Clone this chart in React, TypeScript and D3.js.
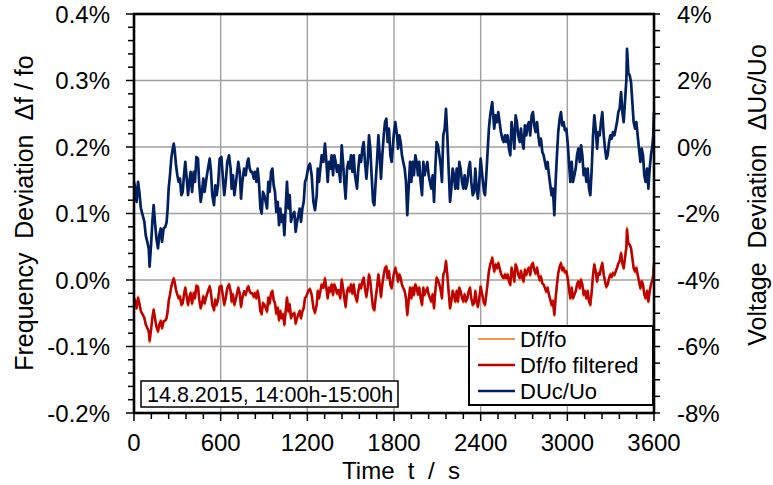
import React, { useEffect, useRef } from 'react';
import * as d3 from 'd3';

// time axis of the readings (s)
const timeS = [
  0, 9, 18, 28, 37, 48, 60, 72, 81, 92,
  102, 108, 118, 127, 136, 145, 155, 166, 175, 185,
  194, 205, 217, 226, 233, 240, 249, 258, 268, 275,
  282, 291, 300, 309, 318, 328, 337, 346, 355, 365,
  374, 383, 392, 402, 413, 422, 432, 443, 452, 462,
  471, 480, 489, 498, 512, 524, 533, 542, 554, 563,
  572, 582, 593, 605, 614, 625, 635, 646, 658, 669,
  676, 685, 695, 709, 722, 732, 741, 750, 762, 773,
  785, 792, 801, 810, 819, 829, 838, 847, 856, 865,
  875, 884, 893, 902, 912, 921, 930, 939, 949, 958,
  967, 976, 985, 995, 1004, 1013, 1022, 1032, 1041, 1050,
  1059, 1069, 1078, 1087, 1096, 1110, 1119, 1129, 1138, 1147,
  1156, 1166, 1175, 1184, 1193, 1207, 1218, 1230, 1242, 1253,
  1265, 1272, 1281, 1290, 1299, 1311, 1322, 1332, 1341, 1350,
  1359, 1368, 1378, 1387, 1396, 1405, 1415, 1428, 1438, 1447,
  1456, 1465, 1475, 1484, 1493, 1502, 1512, 1521, 1530, 1544,
  1553, 1562, 1572, 1581, 1590, 1599, 1609, 1618, 1627, 1636,
  1645, 1655, 1664, 1673, 1682, 1692, 1701, 1710, 1719, 1729,
  1738, 1747, 1756, 1765, 1775, 1784, 1798, 1809, 1821, 1828,
  1837, 1846, 1855, 1864, 1874, 1883, 1892, 1901, 1911, 1920,
  1929, 1938, 1948, 1957, 1966, 1975, 1984, 1994, 2003, 2012,
  2021, 2031, 2040, 2049, 2058, 2068, 2077, 2086, 2095, 2104,
  2114, 2123, 2132, 2141, 2151, 2160, 2169, 2178, 2188, 2197,
  2206, 2215, 2224, 2234, 2243, 2252, 2261, 2271, 2280, 2289,
  2298, 2308, 2317, 2326, 2335, 2345, 2354, 2363, 2372, 2381,
  2391, 2400, 2411, 2423, 2430, 2439, 2448, 2457, 2466, 2476,
  2480, 2485, 2494, 2503, 2513, 2522, 2531, 2540, 2550, 2559,
  2568, 2577, 2586, 2596, 2605, 2614, 2623, 2633, 2642, 2651,
  2660, 2670, 2679, 2688, 2697, 2706, 2716, 2725, 2734, 2743,
  2753, 2762, 2771, 2780, 2790, 2799, 2808, 2817, 2827, 2836,
  2845, 2854, 2863, 2873, 2882, 2891, 2900, 2910, 2919, 2928,
  2937, 2947, 2956, 2965, 2974, 2983, 2993, 3002, 3012, 3021,
  3030, 3039, 3049, 3058, 3067, 3076, 3086, 3095, 3104, 3113,
  3122, 3132, 3141, 3150, 3159, 3169, 3178, 3187, 3196, 3206,
  3215, 3224, 3233, 3242, 3252, 3261, 3270, 3279, 3289, 3298,
  3307, 3316, 3326, 3335, 3344, 3353, 3362, 3372, 3381, 3390,
  3399, 3409, 3413, 3418, 3422, 3432, 3441, 3450, 3459, 3469,
  3478, 3487, 3496, 3506, 3515, 3524, 3533, 3542, 3552, 3561,
  3570, 3579, 3589, 3595, 3600,
];

// DUc/Uo in % (right axis)
const dUcUo = [
  -1.05, -1.25, -1.65, -1.05, -1.35, -1.85, -2.05, -2.25, -2.65, -2.85,
  -3.05, -3.6, -2.95, -2.25, -1.75, -2.25, -2.75, -3.05, -2.65, -2.45,
  -2.85, -2.45, -2.4, -2.25, -1.85, -1.25, -0.85, -0.35, -0.05, 0.1,
  -0.1, -0.55, -0.85, -1.05, -0.95, -1.45, -1.35, -0.85, -0.45, -0.95,
  -1.45, -1.05, -0.75, -1.35, -0.75, -1.05, -0.3, -0.35, -1.15, -1.65,
  -1.35, -0.95, -1.35, -1.05, -0.65, -0.35, -0.75, -1.45, -1.75, -1.15,
  -1.45, -1.15, -0.35, -0.3, -0.85, -1.45, -1.05, -0.45, -0.25, -0.65,
  -1.25, -0.85, -1.45, -0.95, -0.45, -0.75, -1.55, -1.05, -0.65, -0.85,
  -0.45, -0.35, -0.65, -0.75, -0.75, -0.95, -0.75, -1.05, -0.65, -1.05,
  -1.85, -2.0, -1.35, -1.45, -1.65, -1.85, -1.05, -1.35, -0.75, -0.65,
  -1.15, -1.35, -1.95, -1.65, -2.35, -1.85, -2.25, -2.05, -2.65, -1.85,
  -1.05, -1.85, -1.45, -2.25, -2.05, -1.95, -2.55, -2.25, -2.05, -1.85,
  -2.25, -1.85, -1.65, -1.05, -0.95, -0.6, -0.5, -0.85, -1.65, -1.9,
  -1.45, -0.65, -1.05, -0.65, -0.25, -0.45, 0.1, -0.45, -1.05, -0.45,
  -0.65, -0.25, -0.85, -0.25, -0.45, -0.75, -0.55, -1.05, 0.05, -0.45,
  -1.05, -1.55, -0.65, -0.45, -0.65, -0.25, -0.75, -0.25, -0.85, -1.25,
  -0.65, -0.25, -0.45, -0.05, 0.15, -0.45, -0.95, -0.45, 0.35, -0.05,
  -0.85, -1.65, -1.75, -1.05, -0.45, 0.35, -0.25, -0.95, -0.25, 0.35,
  0.75, 0.85, 0.15, 0.55, -0.25, -0.45, 0.35, 0.75, 0.35, -0.05,
  0.35, 0.15, -0.25, -0.45, -0.65, -1.05, -2.05, -1.25, -0.45, -1.05,
  -0.45, -0.85, -0.25, -0.45, -0.85, -0.45, -1.05, -1.45, -0.45, -0.85,
  -0.65, -0.45, -0.85, -1.05, -1.25, -0.85, -1.65, -0.65, 0.15, 0.05,
  -0.25, -0.55, -1.05, 0.35, 0.55, 1.15, 0.35, -0.65, -1.65, -1.25,
  -0.65, -0.85, -1.25, -0.65, -1.25, -0.45, -0.65, -1.05, -1.25, -0.85,
  -1.25, -1.05, -0.65, -0.45, -1.05, -1.45, -1.35, -0.65, -1.25, -1.55,
  -1.0, -0.35, -0.85, -1.35, -1.45, -0.85, -0.15, 0.55, 0.95, 1.25,
  1.35, 1.05, 0.55, 0.95, 0.75, 1.05, 0.75, 0.45, 0.25, 0.15,
  0.35, 0.15, 0.35, -0.05, -0.25, 0.75, 0.45, -0.05, 0.95, 0.75,
  0.35, 0.15, 0.55, 0.15, -0.05, 0.65, 0.35, 0.65, 0.75, 0.35,
  0.95, 1.05, 0.65, 0.45, 0.75, 0.35, 0.05, 0.25, -0.15, -0.25,
  -0.45, -0.65, -0.45, -0.85, -1.15, -1.45, -1.25, -2.05, -1.05, -0.25,
  0.45, 0.85, 1.05, 0.65, 0.75, 0.5, 0.55, 0.15, -0.5, -1.05,
  -0.45, -1.05, -0.85, -0.65, -0.25, -0.05, -0.45, 0.05, -0.25, -0.85,
  -0.65, -1.05, -0.65, -1.25, -1.45, -0.65, 0.35, 0.95, 0.55, -0.05,
  0.45, 0.35, 0.75, 1.05, 0.35, -0.05, -0.35, -0.25, 0.15, 0.35,
  0.25, 0.45, 0.35, 0.55, 0.75, 1.05, 1.15, 1.65, 1.05, 0.75,
  1.35, 2.05, 2.95, 2.6, 2.25, 2.15, 1.95, 1.35, 0.75, 0.55,
  0.75, 0.35, -0.05, -0.45, -0.05, -0.25, -0.85, -1.05, -0.65, -1.25,
  -0.65, -0.25, 0.05, 0.35, 1.05,
];

// Df/fo filtered in % (left axis)
const dfFiltered = [
  -0.027, -0.032, -0.042, -0.027, -0.035, -0.047, -0.052, -0.057, -0.067, -0.072,
  -0.077, -0.091, -0.075, -0.057, -0.045, -0.057, -0.070, -0.077, -0.067, -0.062,
  -0.072, -0.062, -0.061, -0.057, -0.047, -0.032, -0.022, -0.010, -0.002, 0.002,
  -0.004, -0.015, -0.022, -0.027, -0.025, -0.037, -0.035, -0.022, -0.012, -0.025,
  -0.037, -0.027, -0.020, -0.035, -0.020, -0.027, -0.009, -0.010, -0.030, -0.042,
  -0.035, -0.025, -0.035, -0.027, -0.017, -0.010, -0.020, -0.037, -0.045, -0.030,
  -0.037, -0.030, -0.010, -0.009, -0.022, -0.037, -0.027, -0.012, -0.007, -0.017,
  -0.032, -0.022, -0.037, -0.025, -0.012, -0.020, -0.040, -0.027, -0.017, -0.022,
  -0.012, -0.010, -0.017, -0.020, -0.020, -0.025, -0.020, -0.027, -0.017, -0.027,
  -0.047, -0.051, -0.035, -0.037, -0.042, -0.047, -0.027, -0.035, -0.020, -0.017,
  -0.030, -0.035, -0.050, -0.042, -0.060, -0.047, -0.057, -0.052, -0.067, -0.047,
  -0.027, -0.047, -0.037, -0.057, -0.052, -0.050, -0.065, -0.057, -0.052, -0.047,
  -0.057, -0.047, -0.042, -0.027, -0.025, -0.016, -0.014, -0.022, -0.042, -0.049,
  -0.037, -0.017, -0.027, -0.017, -0.007, -0.012, 0.002, -0.012, -0.027, -0.012,
  -0.017, -0.007, -0.022, -0.007, -0.012, -0.020, -0.015, -0.027, 0.000, -0.012,
  -0.027, -0.040, -0.017, -0.012, -0.017, -0.007, -0.020, -0.007, -0.022, -0.032,
  -0.017, -0.007, -0.012, -0.002, 0.003, -0.012, -0.025, -0.012, 0.008, -0.002,
  -0.022, -0.042, -0.045, -0.027, -0.012, 0.008, -0.007, -0.025, -0.007, 0.008,
  0.018, 0.020, 0.003, 0.013, -0.007, -0.012, 0.008, 0.018, 0.008, -0.002,
  0.008, 0.003, -0.007, -0.012, -0.017, -0.027, -0.052, -0.032, -0.012, -0.027,
  -0.012, -0.022, -0.007, -0.012, -0.022, -0.012, -0.027, -0.037, -0.012, -0.022,
  -0.017, -0.012, -0.022, -0.027, -0.032, -0.022, -0.042, -0.017, 0.003, 0.000,
  -0.007, -0.015, -0.027, 0.008, 0.013, 0.028, 0.008, -0.017, -0.042, -0.032,
  -0.017, -0.022, -0.032, -0.017, -0.032, -0.012, -0.017, -0.027, -0.032, -0.022,
  -0.032, -0.027, -0.017, -0.012, -0.027, -0.037, -0.035, -0.017, -0.032, -0.040,
  -0.026, -0.010, -0.022, -0.035, -0.037, -0.022, -0.005, 0.013, 0.023, 0.030,
  0.033, 0.025, 0.013, 0.023, 0.018, 0.025, 0.018, 0.010, 0.005, 0.003,
  0.008, 0.003, 0.008, -0.002, -0.007, 0.018, 0.010, -0.002, 0.023, 0.018,
  0.008, 0.003, 0.013, 0.003, -0.002, 0.015, 0.008, 0.015, 0.018, 0.008,
  0.023, 0.025, 0.015, 0.010, 0.018, 0.008, 0.000, 0.005, -0.005, -0.007,
  -0.012, -0.017, -0.012, -0.022, -0.030, -0.037, -0.032, -0.052, -0.027, -0.007,
  0.010, 0.020, 0.025, 0.015, 0.018, 0.012, 0.013, 0.003, -0.014, -0.027,
  -0.012, -0.027, -0.022, -0.017, -0.007, -0.002, -0.012, 0.000, -0.007, -0.022,
  -0.017, -0.027, -0.017, -0.032, -0.037, -0.017, 0.008, 0.023, 0.013, -0.002,
  0.010, 0.008, 0.018, 0.025, 0.008, -0.002, -0.010, -0.007, 0.003, 0.008,
  0.005, 0.010, 0.008, 0.013, 0.018, 0.025, 0.028, 0.040, 0.025, 0.018,
  0.033, 0.050, 0.076, 0.064, 0.055, 0.053, 0.048, 0.033, 0.018, 0.013,
  0.018, 0.008, -0.002, -0.012, -0.002, -0.007, -0.022, -0.027, -0.017, -0.032,
  -0.017, -0.007, 0.000, 0.008, 0.025,
];

// Df/fo unfiltered in % (left axis)
const dfRaw = [
  -0.027, -0.032, -0.044, -0.025, -0.035, -0.047, -0.052, -0.057, -0.067, -0.072,
  -0.077, -0.094, -0.075, -0.057, -0.043, -0.057, -0.070, -0.079, -0.067, -0.060,
  -0.074, -0.062, -0.061, -0.057, -0.047, -0.032, -0.022, -0.010, -0.002, 0.004,
  -0.004, -0.015, -0.022, -0.029, -0.023, -0.039, -0.035, -0.022, -0.010, -0.025,
  -0.039, -0.027, -0.018, -0.037, -0.018, -0.029, -0.007, -0.010, -0.030, -0.044,
  -0.035, -0.023, -0.037, -0.027, -0.017, -0.008, -0.020, -0.037, -0.047, -0.028,
  -0.039, -0.030, -0.010, -0.007, -0.022, -0.039, -0.027, -0.012, -0.005, -0.017,
  -0.034, -0.020, -0.039, -0.025, -0.010, -0.020, -0.042, -0.027, -0.017, -0.024,
  -0.012, -0.008, -0.017, -0.020, -0.020, -0.027, -0.018, -0.029, -0.015, -0.027,
  -0.047, -0.053, -0.033, -0.037, -0.042, -0.049, -0.025, -0.037, -0.020, -0.015,
  -0.030, -0.035, -0.052, -0.040, -0.062, -0.045, -0.059, -0.050, -0.069, -0.047,
  -0.025, -0.049, -0.035, -0.059, -0.052, -0.048, -0.067, -0.057, -0.052, -0.045,
  -0.059, -0.047, -0.042, -0.027, -0.025, -0.016, -0.012, -0.022, -0.042, -0.051,
  -0.037, -0.015, -0.029, -0.017, -0.005, -0.012, 0.004, -0.012, -0.029, -0.010,
  -0.019, -0.005, -0.024, -0.005, -0.012, -0.022, -0.015, -0.029, 0.002, -0.012,
  -0.027, -0.042, -0.017, -0.010, -0.019, -0.005, -0.022, -0.005, -0.022, -0.034,
  -0.017, -0.005, -0.014, -0.002, 0.005, -0.012, -0.027, -0.012, 0.010, -0.002,
  -0.022, -0.042, -0.047, -0.027, -0.012, 0.010, -0.007, -0.027, -0.007, 0.008,
  0.018, 0.022, 0.001, 0.015, -0.007, -0.014, 0.008, 0.020, 0.008, -0.004,
  0.010, 0.003, -0.007, -0.012, -0.017, -0.027, -0.054, -0.032, -0.010, -0.029,
  -0.010, -0.024, -0.005, -0.012, -0.022, -0.010, -0.027, -0.039, -0.010, -0.024,
  -0.017, -0.010, -0.022, -0.027, -0.034, -0.020, -0.044, -0.017, 0.005, 0.000,
  -0.007, -0.015, -0.029, 0.008, 0.013, 0.030, 0.008, -0.017, -0.044, -0.032,
  -0.015, -0.022, -0.034, -0.015, -0.034, -0.010, -0.017, -0.027, -0.034, -0.020,
  -0.034, -0.027, -0.017, -0.010, -0.027, -0.039, -0.035, -0.015, -0.032, -0.042,
  -0.026, -0.008, -0.022, -0.035, -0.039, -0.022, -0.005, 0.013, 0.023, 0.030,
  0.035, 0.025, 0.011, 0.025, 0.016, 0.027, 0.018, 0.010, 0.005, 0.001,
  0.010, 0.001, 0.010, -0.002, -0.009, 0.020, 0.010, -0.004, 0.025, 0.018,
  0.008, 0.001, 0.015, 0.003, -0.004, 0.017, 0.006, 0.015, 0.020, 0.006,
  0.023, 0.027, 0.015, 0.008, 0.020, 0.008, -0.002, 0.007, -0.005, -0.007,
  -0.012, -0.019, -0.010, -0.022, -0.030, -0.039, -0.030, -0.054, -0.027, -0.007,
  0.010, 0.020, 0.027, 0.013, 0.020, 0.010, 0.015, 0.003, -0.014, -0.029,
  -0.010, -0.029, -0.022, -0.017, -0.007, 0.000, -0.014, 0.002, -0.007, -0.024,
  -0.015, -0.029, -0.015, -0.032, -0.039, -0.017, 0.008, 0.025, 0.013, -0.004,
  0.012, 0.008, 0.018, 0.027, 0.008, -0.002, -0.012, -0.007, 0.003, 0.010,
  0.003, 0.012, 0.006, 0.013, 0.018, 0.025, 0.028, 0.042, 0.025, 0.016,
  0.033, 0.050, 0.079, 0.064, 0.055, 0.053, 0.048, 0.033, 0.018, 0.011,
  0.020, 0.008, -0.002, -0.014, 0.000, -0.007, -0.022, -0.029, -0.015, -0.034,
  -0.017, -0.007, 0.000, 0.008, 0.027,
];

const leftTicks = [-0.2, -0.1, 0.0, 0.1, 0.2, 0.3, 0.4];
const rightTicks = [-8, -6, -4, -2, 0, 2, 4];
const timeTicks = [0, 600, 1200, 1800, 2400, 3000, 3600];
const legendLabels = ['Df/fo', 'Df/fo filtered', 'DUc/Uo'];
const legendColors = ['#f79646', '#c00000', '#002060'];
const dateLabel = '14.8.2015, 14:00h-15:00h';

const FONT = '"Liberation Sans", Arial, sans-serif';

const App = () => {
  const ref = useRef<SVGSVGElement>(null);

  useEffect(() => {
    const svg = d3.select(ref.current);
    svg.selectAll('*').remove();

    const svgWidth = 773;
    const svgHeight = 485;
    const plot = { left: 134, right: 654, top: 14, bottom: 413 };

    svg.append('rect').attr('width', svgWidth).attr('height', svgHeight).attr('fill', '#fff');

    const xScale = d3.scaleLinear().domain([0, 3600]).range([plot.left, plot.right]);
    const yLeft = d3.scaleLinear().domain([-0.2, 0.4]).range([plot.bottom, plot.top]);
    const yRight = d3.scaleLinear().domain([-8, 4]).range([plot.bottom, plot.top]);

    // grid
    const grid = svg.append('g').attr('stroke', '#a0a0a0').attr('stroke-width', 1.4);
    leftTicks.slice(1, -1).forEach(v => {
      grid.append('line')
        .attr('x1', plot.left).attr('x2', plot.right)
        .attr('y1', yLeft(v)).attr('y2', yLeft(v));
    });
    timeTicks.slice(1, -1).forEach(t => {
      grid.append('line')
        .attr('x1', xScale(t)).attr('x2', xScale(t))
        .attr('y1', plot.top).attr('y2', plot.bottom);
    });

    // series
    const idx = d3.range(timeS.length);
    const lineLeft = (vals: number[]) => d3.line<number>()
      .x(i => xScale(timeS[i]))
      .y(i => yLeft(vals[i]))(idx);
    const lineRight = d3.line<number>()
      .x(i => xScale(timeS[i]))
      .y(i => yRight(dUcUo[i]));

    svg.append('path').attr('d', lineLeft(dfRaw))
      .attr('fill', 'none').attr('stroke', legendColors[0]).attr('stroke-width', 2.2)
      .attr('stroke-linejoin', 'round');
    svg.append('path').attr('d', lineLeft(dfFiltered))
      .attr('fill', 'none').attr('stroke', legendColors[1]).attr('stroke-width', 2.5)
      .attr('stroke-linejoin', 'round');
    svg.append('path').attr('d', lineRight(idx))
      .attr('fill', 'none').attr('stroke', legendColors[2]).attr('stroke-width', 2.7)
      .attr('stroke-linejoin', 'round');

    // ticks
    const ticks = svg.append('g').attr('stroke', '#000').attr('stroke-width', 1.5);
    d3.range(-0.2, 0.4001, 0.02).forEach(v => {
      const major = Math.abs(Math.round(v * 10) - v * 10) < 1e-6;
      ticks.append('line')
        .attr('x1', plot.left - (major ? 8 : 6)).attr('x2', plot.left)
        .attr('y1', yLeft(v)).attr('y2', yLeft(v));
    });
    d3.range(-8, 4.001, 0.5).forEach(v => {
      ticks.append('line')
        .attr('x1', plot.right).attr('x2', plot.right + 6)
        .attr('y1', yRight(v)).attr('y2', yRight(v));
    });
    d3.range(0, 3601, 120).forEach(t => {
      const major = t % 600 === 0;
      ticks.append('line')
        .attr('x1', xScale(t)).attr('x2', xScale(t))
        .attr('y1', plot.bottom).attr('y2', plot.bottom + (major ? 8 : 6));
    });

    // frame
    svg.append('rect')
      .attr('x', plot.left).attr('y', plot.top)
      .attr('width', plot.right - plot.left).attr('height', plot.bottom - plot.top)
      .attr('fill', 'none').attr('stroke', '#000').attr('stroke-width', 2.6);

    // date box
    svg.append('rect')
      .attr('x', 141).attr('y', 381).attr('width', 257).attr('height', 26)
      .attr('fill', '#fff').attr('stroke', '#000').attr('stroke-width', 1.5);

    // legend box
    svg.append('rect')
      .attr('x', 469).attr('y', 326).attr('width', 184).attr('height', 79)
      .attr('fill', '#fff').attr('stroke', '#000').attr('stroke-width', 2);

    const text = svg.append('g').attr('font-family', FONT).attr('fill', '#000');

    leftTicks.forEach(v => {
      text.append('text')
        .attr('x', 110).attr('y', yLeft(v) + 8.5)
        .attr('text-anchor', 'end').attr('font-size', 24)
        .text(`${v.toFixed(1)}%`);
    });
    rightTicks.forEach(v => {
      text.append('text')
        .attr('x', 677).attr('y', yRight(v) + 8.5)
        .attr('font-size', 24)
        .text(`${v}%`);
    });
    timeTicks.forEach(t => {
      text.append('text')
        .attr('x', xScale(t)).attr('y', 451)
        .attr('text-anchor', 'middle').attr('font-size', 24)
        .text(t);
    });

    // axis titles
    text.append('text')
      .attr('x', 401).attr('y', 479)
      .attr('text-anchor', 'middle').attr('font-size', 24)
      .attr('xml:space', 'preserve')
      .text('Time  t  /  s');
    text.append('text')
      .attr('transform', 'translate(33, 213) rotate(-90)')
      .attr('text-anchor', 'middle').attr('font-size', 25)
      .attr('xml:space', 'preserve')
      .text('Frequency  Deviation  \u0394f / fo');
    text.append('text')
      .attr('transform', 'translate(766, 195) rotate(-90)')
      .attr('text-anchor', 'middle').attr('font-size', 25)
      .attr('xml:space', 'preserve')
      .text('Voltage  Deviation  \u0394Uc/Uo');

    text.append('text')
      .attr('x', 147).attr('y', 402).attr('font-size', 21.5)
      .text(dateLabel);

    // legend entries
    legendLabels.forEach((label, i) => {
      const y = 339 + i * 26;
      svg.append('line')
        .attr('x1', 478).attr('x2', 515).attr('y1', y).attr('y2', y)
        .attr('stroke', legendColors[i]).attr('stroke-width', i === 0 ? 2 : 2.6);
      text.append('text')
        .attr('x', 520).attr('y', y + 8).attr('font-size', 22)
        .text(label);
    });
  }, []);

  return (
    <svg ref={ref} width={773} height={485}
      style={{ position: 'absolute', left: 0, top: 0 }} />
  );
};

export default App;
